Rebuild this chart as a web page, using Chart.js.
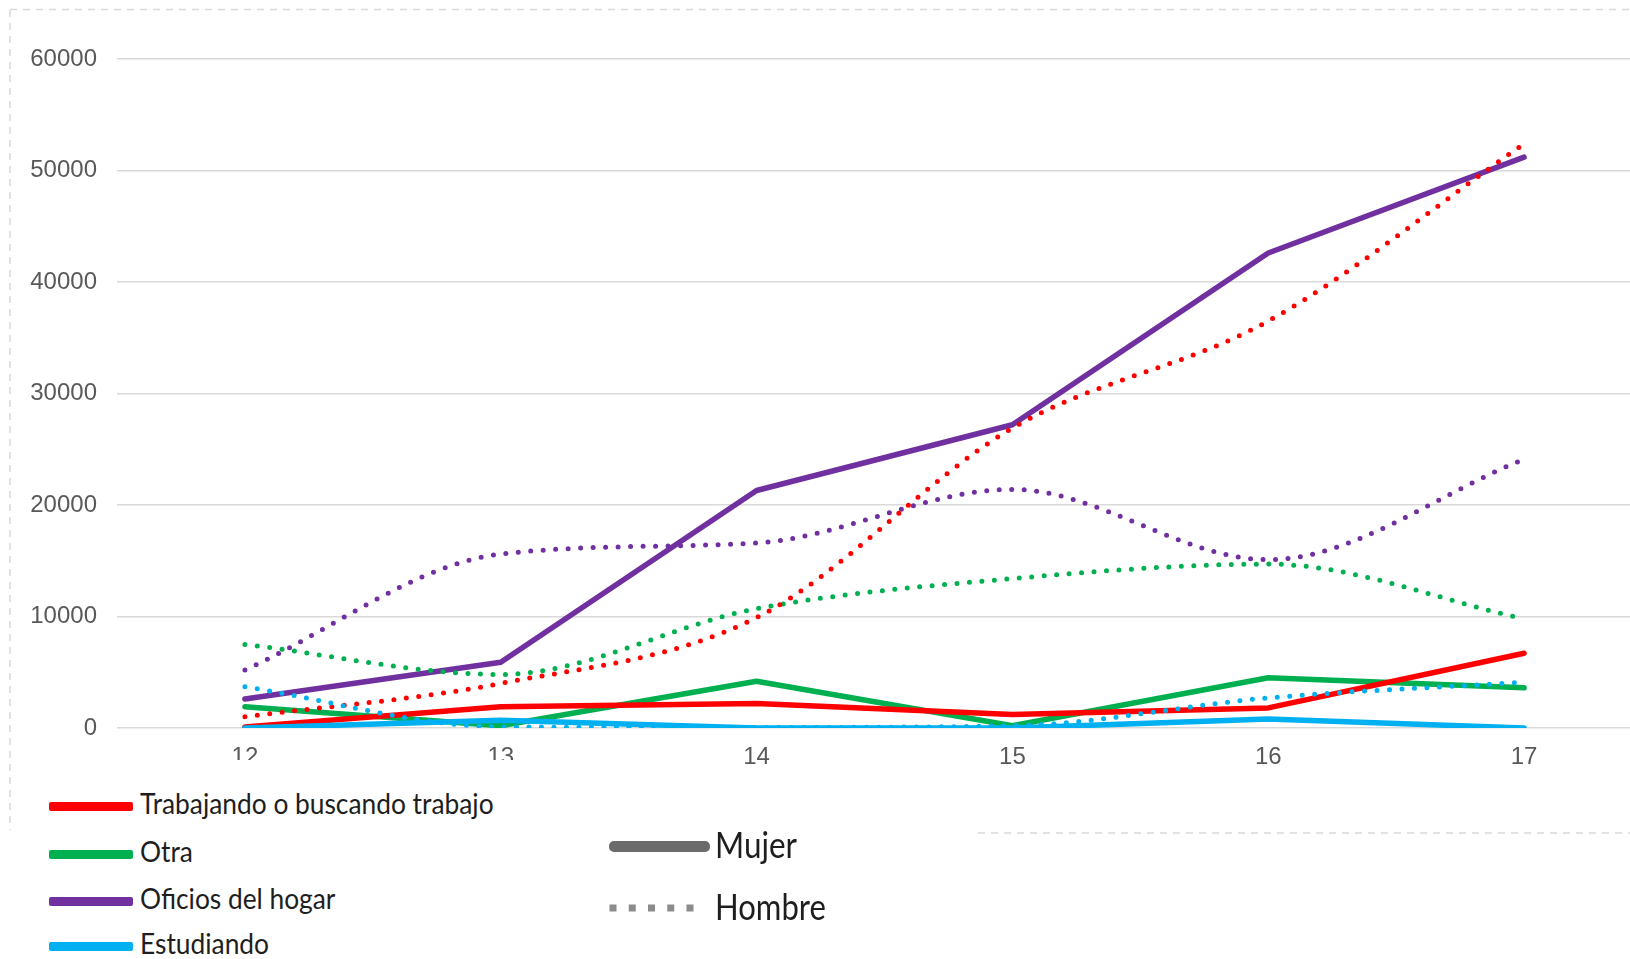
<!DOCTYPE html>
<html>
<head>
<meta charset="utf-8">
<script src="https://cdn.jsdelivr.net/npm/chart.js@4.4.1/dist/chart.umd.min.js"></script>
<style>
  html, body { margin: 0; padding: 0; background: #fff; }
  #page { position: relative; width: 1630px; height: 959px; overflow: hidden; background: #fff; }
  #chartBox { position: absolute; left: 0; top: 0; width: 1660px; height: 800px; }
  #frame { position: absolute; left: 0; top: 0; }
  #cover { position: absolute; left: 12px; top: 760px; width: 548px; height: 199px; background: #fff; }
  .swatch { position: absolute; border-radius: 2px; }
  .label {
    position: absolute; font-family: Lato, "Noto Sans", sans-serif; color: #1e1e1e;
    white-space: nowrap; line-height: 1; transform-origin: 0 0;
  }
</style>
</head>
<body>
<div id="page">
  <div id="chartBox"><canvas id="chart" width="1660" height="800"></canvas></div>
  <svg id="frame" width="1630" height="959">
    <g stroke="#d9d9d9" stroke-width="1.5" stroke-dasharray="7 6" fill="none">
      <line x1="10" y1="9.5" x2="1630" y2="9.5"/>
      <line x1="10" y1="10" x2="10" y2="830"/>
      <line x1="978" y1="833" x2="1630" y2="833"/>
    </g>
  </svg>
  <div id="cover"></div>
  <div id="legend"></div>
</div>
<script>
const ages = ['12', '13', '14', '15', '16', '17'];
const yTicks = [0, 10000, 20000, 30000, 40000, 50000, 60000];

const categories = ['Trabajando o buscando trabajo', 'Otra', 'Oficios del hogar', 'Estudiando'];
const categoryColors = ['#ff0000', '#00b050', '#7030a0', '#00b0f0'];
const genders = ['Mujer', 'Hombre'];

// Mujer (solid lines)
const trabajoMujer = [100, 1900, 2200, 1200, 1800, 6700];
const otraMujer = [1900, 200, 4200, 200, 4500, 3600];
const hogarMujer = [2600, 5900, 21300, 27200, 42600, 51200];
const estudioMujer = [0, 700, 0, 0, 800, 0];

// Hombre (dotted lines)
const trabajoHombre = [1000, 4000, 9900, 26900, 36500, 52400];
const otraHombre = [7500, 4800, 10700, 13400, 14700, 9800];
const hogarHombre = [5200, 15600, 16600, 21400, 15100, 24100];
const estudioHombre = [3700, 100, 50, 200, 2700, 4100];

const mujer = [trabajoMujer, otraMujer, hogarMujer, estudioMujer];
const hombre = [trabajoHombre, otraHombre, hogarHombre, estudioHombre];

// chart.js paints dataset 0 last, so the dotted ones go first to sit on top
const datasets = [];
[3, 0, 1, 2].forEach(i => {
  datasets.push({
    label: categories[i] + ' - ' + genders[1],
    data: hombre[i],
    borderColor: categoryColors[i],
    borderWidth: 5,
    borderDash: [0, 12.5],
    borderCapStyle: 'round',
    cubicInterpolationMode: 'monotone',
    pointRadius: 0
  });
});
[3, 0, 1, 2].forEach(i => {
  datasets.push({
    label: categories[i] + ' - ' + genders[0],
    data: mujer[i],
    borderColor: categoryColors[i],
    borderWidth: 5.5,
    borderCapStyle: 'round',
    borderJoinStyle: 'round',
    tension: 0,
    pointRadius: 0
  });
});

const tickFont = { family: '"Liberation Sans", Arial, sans-serif', size: 24 };

new Chart(document.getElementById('chart'), {
  type: 'line',
  data: { labels: ages, datasets },
  options: {
    responsive: false,
    animation: false,
    devicePixelRatio: 1,
    layout: { padding: { top: 59, right: 8, left: 0, bottom: 0 } },
    plugins: { legend: { display: false }, tooltip: { enabled: false } },
    scales: {
      x: {
        offset: true,
        grid: { display: false, drawTicks: false },
        border: { display: false },
        ticks: { font: tickFont, color: '#595959', padding: 15, maxRotation: 0 },
        afterFit: s => { s.height = 72; }
      },
      y: {
        min: 0,
        max: 60000,
        afterBuildTicks: s => { s.ticks = yTicks.map(v => ({ value: v })); },
        grid: { color: '#d9d9d9', lineWidth: 1.5, drawTicks: false },
        border: { display: false },
        ticks: { font: tickFont, color: '#595959', padding: 20, callback: v => String(v) },
        afterFit: s => { s.width = 117; }
      }
    }
  }
});

// legend, drawn as page elements below the plot
const legend = document.getElementById('legend');
const rowY = [806, 854, 901, 946];

function addLabel(text, x, baseline, size, squeeze) {
  const el = document.createElement('div');
  el.className = 'label';
  el.textContent = text;
  el.style.fontSize = size + 'px';
  el.style.left = x + 'px';
  el.style.top = (baseline - 0.887 * size) + 'px';
  el.style.transform = 'scaleX(' + squeeze + ')';
  legend.appendChild(el);
}

categories.forEach((name, i) => {
  const sw = document.createElement('div');
  sw.className = 'swatch';
  sw.style.left = '49px';
  sw.style.width = '84px';
  sw.style.height = '9px';
  sw.style.top = (rowY[i] - 4.5) + 'px';
  sw.style.background = categoryColors[i];
  legend.appendChild(sw);
  addLabel(name, 140, rowY[i] + 7.5, 28, 0.94);
});

const mujerSw = document.createElement('div');
mujerSw.className = 'swatch';
mujerSw.style.cssText += 'left:609px;width:101px;height:11px;top:841px;background:#6b6b6b;border-radius:5px;';
legend.appendChild(mujerSw);
addLabel(genders[0], 715, 858, 37, 0.85);

const ns = 'http://www.w3.org/2000/svg';
const dots = document.createElementNS(ns, 'svg');
dots.setAttribute('width', '100');
dots.setAttribute('height', '20');
dots.style.cssText = 'position:absolute;left:603px;top:898px;';
const dl = document.createElementNS(ns, 'line');
dl.setAttribute('x1', '10'); dl.setAttribute('y1', '10');
dl.setAttribute('x2', '90'); dl.setAttribute('y2', '10');
dl.setAttribute('stroke', '#8c8c8c');
dl.setAttribute('stroke-width', '7');
dl.setAttribute('stroke-linecap', 'square');
dl.setAttribute('stroke-dasharray', '0 19.25');
dots.appendChild(dl);
legend.appendChild(dots);
addLabel(genders[1], 715, 920, 37, 0.84);
</script>
</body>
</html>
